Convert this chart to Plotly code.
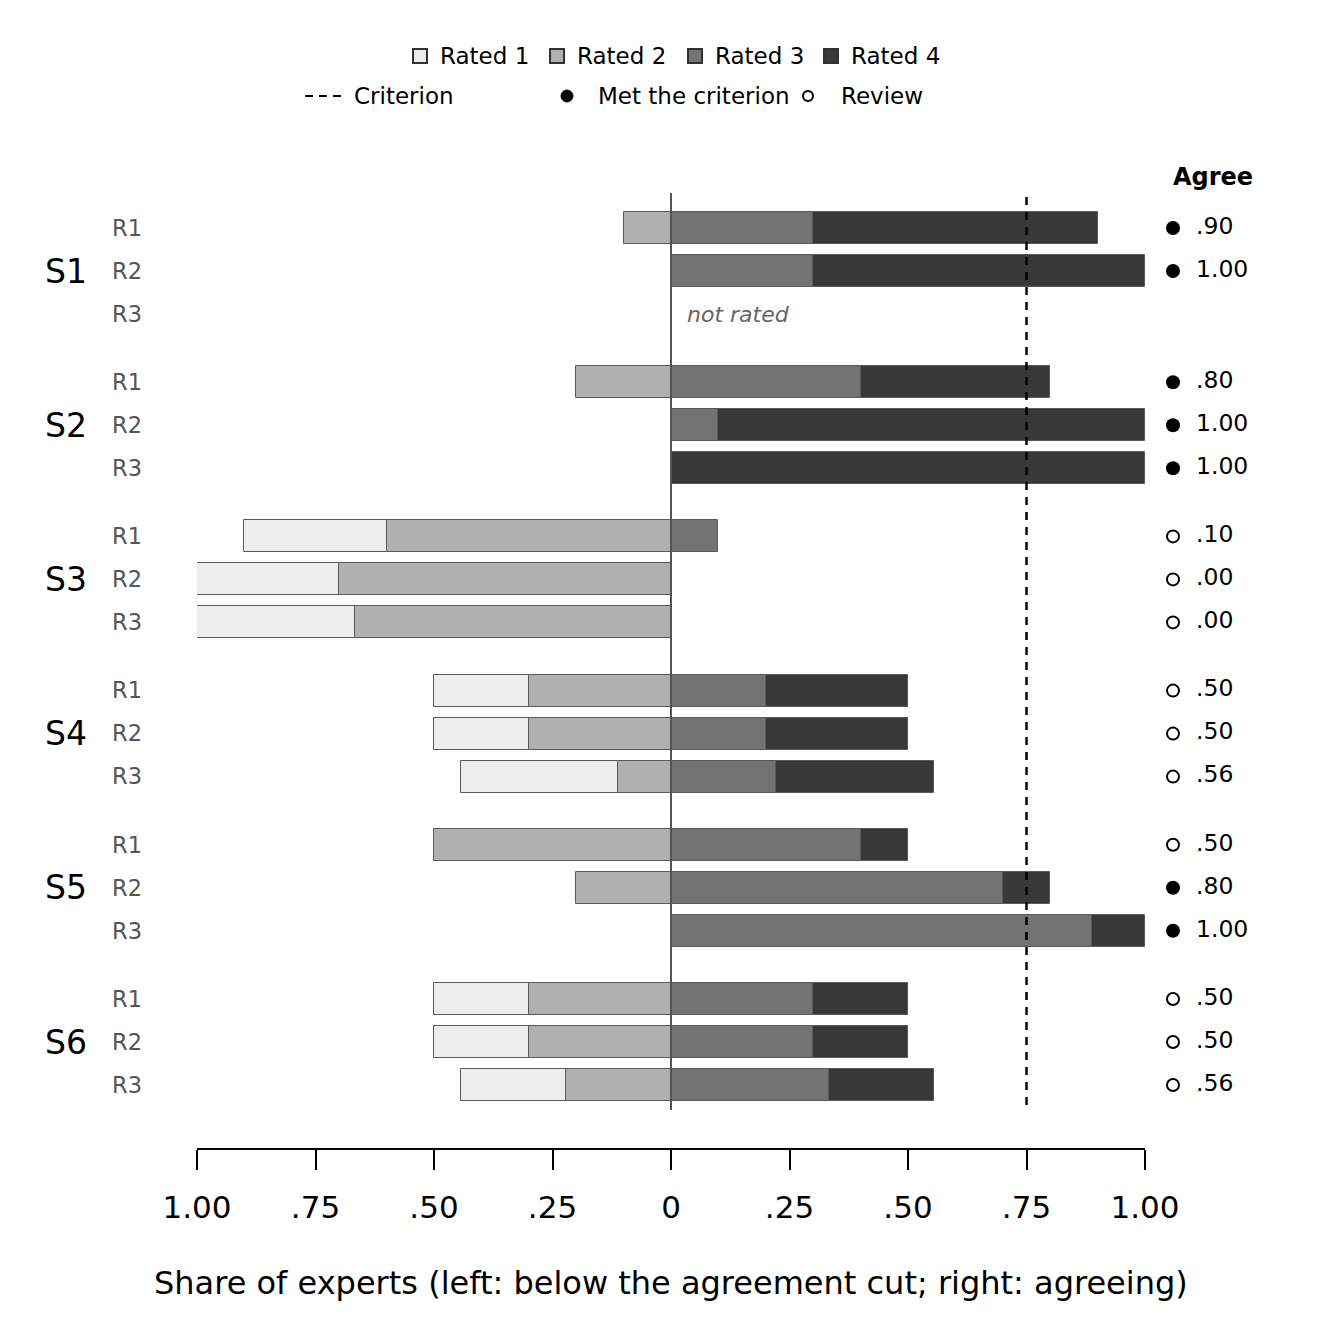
import plotly.graph_objects as go

# data
groups = ["S1", "S2", "S3", "S4", "S5", "S6"]
rounds = ["R1", "R2", "R3"]

# share of experts per rating, one value per (group, round); None = no bar
rated1 = [None, None, None, None, None, None, 0.3, 0.3, 0.333, 0.2, 0.2, 0.333,
          None, None, None, 0.2, 0.2, 0.222]
rated2 = [0.1, None, None, 0.2, None, None, 0.6, 0.7, 0.667, 0.3, 0.3, 0.111,
          0.5, 0.2, None, 0.3, 0.3, 0.222]
rated3 = [0.3, 0.3, None, 0.4, 0.1, None, 0.1, None, None, 0.2, 0.2, 0.222,
          0.4, 0.7, 0.889, 0.3, 0.3, 0.333]
rated4 = [0.6, 0.7, None, 0.4, 0.9, 1.0, None, None, None, 0.3, 0.3, 0.333,
          0.1, 0.1, 0.111, 0.2, 0.2, 0.222]
agree = [0.90, 1.00, None, 0.80, 1.00, 1.00, 0.10, 0.00, 0.00, 0.50, 0.50, 0.56,
         0.50, 0.80, 1.00, 0.50, 0.50, 0.56]
not_rated = [("S1", "R3")]
criterion = 0.75

xtick_vals = [-1, -0.75, -0.5, -0.25, 0, 0.25, 0.5, 0.75, 1]
xtick_text = ["1.00", ".75", ".50", ".25", "0", ".25", ".50", ".75", "1.00"]

colors = {"Rated 1": "#ededed", "Rated 2": "#b0b0b0", "Rated 3": "#737373", "Rated 4": "#383838"}
edge = "#5a5a5a"
FONT = "DejaVu Sans"
W = H = 1344
OFF = 8  # page body margin in the browser

# y positions: 3 rows per group with a gap between groups
GSTEP = 3.586
ypos = []
for g in range(len(groups)):
    for r in range(len(rounds)):
        ypos.append(g * GSTEP + r)
row_labels = [r for g in groups for r in rounds]

def px_x(p):
    return (p - OFF) / W

def px_y(p):
    return 1 - (p - OFF) / H

fig = go.Figure()

def neg(v):
    return [None if a is None else -a for a in v]

# left side: Rated 2 next to zero, then Rated 1 outward
for name, vals in [("Rated 2", neg(rated2)), ("Rated 1", neg(rated1)),
                   ("Rated 3", rated3), ("Rated 4", rated4)]:
    fig.add_trace(go.Bar(
        x=vals, y=ypos, orientation="h", name=name, width=0.744,
        marker=dict(color=colors[name], line=dict(color=edge, width=1)),
        showlegend=False, hoverinfo="skip"))

# agree column on its own axis
met_y = [y for y, a in zip(ypos, agree) if a is not None and a >= criterion]
rev_y = [y for y, a in zip(ypos, agree) if a is not None and a < criterion]
fig.add_trace(go.Scatter(x=[23] * len(met_y), y=met_y, mode="markers", xaxis="x2",
                         marker=dict(symbol="circle", size=14, color="black"),
                         showlegend=False, hoverinfo="skip"))
fig.add_trace(go.Scatter(x=[23] * len(rev_y), y=rev_y, mode="markers", xaxis="x2",
                         marker=dict(symbol="circle-open", size=12, color="black",
                                     line=dict(width=2)),
                         showlegend=False, hoverinfo="skip"))

def fmt(a):
    s = "%.2f" % a
    return s if a >= 1 else s[1:]

txt_y = [y for y, a in zip(ypos, agree) if a is not None]
txt = [fmt(a) for a in agree if a is not None]
fig.add_trace(go.Scatter(x=[46] * len(txt_y), y=txt_y, mode="text", xaxis="x2",
                         text=txt, textposition="middle right",
                         textfont=dict(family=FONT, size=23.5, color="black"),
                         showlegend=False, hoverinfo="skip"))

ytop = ypos[0] - 0.814
ybot = ypos[-1] + 1.465

shapes = []
# zero line and criterion line
shapes.append(dict(type="line", xref="x", yref="y", x0=0, x1=0,
                   y0=ypos[0] - 0.814, y1=ypos[-1] + 0.58,
                   line=dict(color="#555555", width=2)))
shapes.append(dict(type="line", xref="x", yref="y", x0=criterion, x1=criterion,
                   y0=ypos[0] - 0.72, y1=ypos[-1] + 0.6,
                   line=dict(color="black", width=2.5, dash="8px,7px")))

annotations = []
for g, name in enumerate(groups):
    annotations.append(dict(x=px_x(66), y=ypos[g * 3 + 1], xref="paper", yref="y",
                            text=name, showarrow=False, xanchor="center", yanchor="middle",
                            font=dict(family=FONT, size=33, color="black")))
for s, r in not_rated:
    i = groups.index(s) * 3 + rounds.index(r)
    annotations.append(dict(x=0.03, y=ypos[i], xref="x", yref="y", text="<i>not rated</i>",
                            showarrow=False, xanchor="left", yanchor="middle",
                            font=dict(family=FONT, size=22, color="#666666")))
annotations.append(dict(x=px_x(1213), y=px_y(177), xref="paper", yref="paper",
                        text="<b>Agree</b>", showarrow=False, xanchor="center", yanchor="middle",
                        font=dict(family=FONT, size=24, color="black")))
annotations.append(dict(x=0, y=px_y(1283), xref="x", yref="paper",
                        text="Share of experts (left: below the agreement cut; right: agreeing)",
                        showarrow=False, xanchor="center", yanchor="middle",
                        font=dict(family=FONT, size=32, color="black")))

# hand-made legend at top
leg_font = dict(family=FONT, size=23, color="black")
for cx, name in [(420, "Rated 1"), (557, "Rated 2"), (695, "Rated 3"), (831, "Rated 4")]:
    shapes.append(dict(type="rect", xref="paper", yref="paper",
                       x0=px_x(cx - 7), x1=px_x(cx + 7), y0=px_y(63), y1=px_y(49),
                       fillcolor=colors[name], line=dict(color="#333333", width=2)))
    annotations.append(dict(x=px_x(cx + 18), y=px_y(56), xref="paper", yref="paper",
                            text=name, showarrow=False, xanchor="left", yanchor="middle",
                            font=leg_font))
shapes.append(dict(type="line", xref="paper", yref="paper", x0=px_x(305), x1=px_x(345),
                   y0=px_y(96), y1=px_y(96), line=dict(color="black", width=2, dash="8px,6px")))
annotations.append(dict(x=px_x(352), y=px_y(96), xref="paper", yref="paper", text="Criterion",
                        showarrow=False, xanchor="left", yanchor="middle", font=leg_font))
shapes.append(dict(type="circle", xref="paper", yref="paper", x0=px_x(561), x1=px_x(573),
                   y0=px_y(102), y1=px_y(90), fillcolor="black", line=dict(color="black", width=1)))
annotations.append(dict(x=px_x(596), y=px_y(96), xref="paper", yref="paper",
                        text="Met the criterion", showarrow=False, xanchor="left",
                        yanchor="middle", font=leg_font))
shapes.append(dict(type="circle", xref="paper", yref="paper", x0=px_x(803), x1=px_x(813),
                   y0=px_y(101), y1=px_y(91), line=dict(color="black", width=2)))
annotations.append(dict(x=px_x(839), y=px_y(96), xref="paper", yref="paper", text="Review",
                        showarrow=False, xanchor="left", yanchor="middle", font=leg_font))

fig.update_layout(
    width=W, height=H, barmode="relative", bargap=0,
    plot_bgcolor="white", paper_bgcolor="white",
    margin=dict(l=0, r=0, t=0, b=0),
    font=dict(family=FONT, color="black"),
    shapes=shapes, annotations=annotations,
    xaxis=dict(domain=[px_x(197), px_x(1145)], range=[-1, 1], showgrid=False, zeroline=False,
               tickvals=xtick_vals, ticktext=xtick_text, ticks="outside", ticklen=20,
               tickwidth=2, tickcolor="black", showline=True, linecolor="black", linewidth=2,
               tickfont=dict(family=FONT, size=31, color="black"), ticklabelstandoff=11,
               anchor="y", automargin=False),
    xaxis2=dict(domain=[px_x(1150), px_x(1300)], range=[0, 150], visible=False, anchor="y"),
    yaxis=dict(domain=[px_y(1148), px_y(193)], range=[ybot, ytop], showgrid=False,
               zeroline=False, showline=False, tickvals=ypos, ticktext=row_labels,
               ticks="", tickfont=dict(family=FONT, size=22.5, color="#555555"),
               ticklabelstandoff=54, automargin=False),
)

fig.write_html("out.html")
